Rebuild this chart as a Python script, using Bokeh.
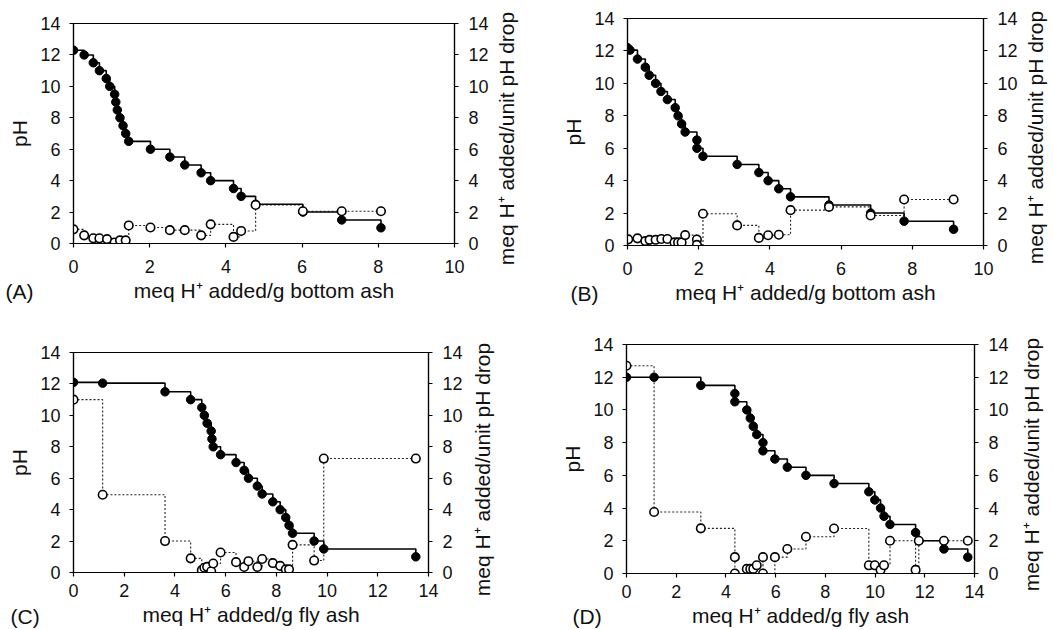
import math
from bokeh.plotting import figure
from bokeh.models import Range1d, LinearAxis, FixedTicker, Label, GridBox
from bokeh.embed import file_html
from bokeh.resources import INLINE

# ---------------- data ----------------
# Panel A (bottom ash)
a_ph_x = [0, 0.28, 0.52, 0.68, 0.86, 0.95, 1.08, 1.11, 1.15, 1.22, 1.3, 1.37, 1.45, 2.02,
          2.53, 2.92, 3.35, 3.6, 4.2, 4.4, 4.78, 6.02, 7.04, 8.07]
a_ph_y = [12.3, 12.0, 11.5, 11.0, 10.5, 10.0, 9.5, 9.0, 8.5, 8.0, 7.5, 7.0, 6.5, 6.0,
          5.5, 5.0, 4.5, 4.0, 3.5, 3.0, 2.5, 2.0, 1.5, 1.0]
a_buf_x = [0, 0.28, 0.52, 0.68, 0.88, 1.08, 1.22, 1.37, 1.45, 2.02, 2.53, 2.92, 3.35, 3.6,
           4.2, 4.4, 4.78, 6.02, 7.04, 8.07]
a_buf_y = [0.9, 0.52, 0.33, 0.33, 0.28, 0.06, 0.2, 0.2, 1.15, 1.02, 0.85, 0.85, 0.52, 1.22,
           0.42, 0.8, 2.45, 2.05, 2.05, 2.05]

# Panel B (bottom ash)
b_ph_x = [0, 0.07, 0.28, 0.5, 0.61, 0.79, 0.94, 1.12, 1.34, 1.42, 1.52, 1.62, 1.95, 1.95,
          2.12, 3.08, 3.69, 3.95, 4.25, 4.58, 5.66, 6.83, 7.77, 9.16]
b_ph_y = [12.2, 12.05, 11.5, 11.0, 10.5, 10.0, 9.5, 9.0, 8.5, 8.0, 7.5, 7.0, 6.5, 6.0,
          5.5, 5.0, 4.5, 4.0, 3.5, 3.0, 2.5, 2.0, 1.5, 1.0]
b_buf_x = [0.02, 0.28, 0.5, 0.62, 0.79, 0.95, 1.12, 1.32, 1.42, 1.52, 1.62, 1.95, 1.95,
           2.12, 3.08, 3.69, 3.95, 4.25, 4.58, 5.66, 6.83, 7.77, 9.16]
b_buf_y = [0.38, 0.44, 0.27, 0.35, 0.35, 0.4, 0.4, 0.19, 0.19, 0.19, 0.64, 0.37, 0.04,
           1.96, 1.24, 0.47, 0.63, 0.66, 2.18, 2.38, 1.85, 2.84, 2.84]

# Panel C (fly ash)
c_ph_x = [0, 1.15, 3.61, 4.62, 5.06, 5.16, 5.27, 5.43, 5.46, 5.51, 5.8, 6.41, 6.73, 6.9,
          7.25, 7.44, 7.86, 8.15, 8.37, 8.5, 8.64, 9.49, 9.87, 13.5]
c_ph_y = [12.1, 12.05, 11.5, 11.0, 10.5, 10.0, 9.5, 9.0, 8.5, 8.0, 7.5, 7.0, 6.5, 6.0,
          5.5, 5.0, 4.5, 4.0, 3.5, 3.0, 2.5, 2.0, 1.5, 1.0]
c_buf_x = [0, 1.15, 3.61, 4.62, 5.06, 5.16, 5.27, 5.43, 5.51, 5.8, 6.41, 6.73, 6.9, 7.25,
           7.44, 7.86, 8.15, 8.37, 8.5, 8.64, 9.49, 9.87, 13.5]
c_buf_y = [11.0, 4.95, 2.0, 0.9, 0.15, 0.3, 0.36, 0.08, 0.57, 1.27, 0.66, 0.35, 0.72, 0.35,
           0.86, 0.6, 0.42, 0.2, 0.2, 1.76, 0.76, 7.25, 7.25]

# Panel D (fly ash)
d_ph_x = [0, 1.11, 2.99, 4.36, 4.36, 4.84, 4.98, 5.1, 5.24, 5.49, 5.49, 5.97, 6.47, 7.22,
          8.35, 9.75, 9.99, 10.22, 10.36, 10.6, 11.63, 11.76, 12.77, 13.73]
d_ph_y = [12.0, 12.0, 11.5, 11.0, 10.5, 10.0, 9.5, 9.0, 8.5, 8.0, 7.5, 7.0, 6.5, 6.0,
          5.5, 5.0, 4.5, 4.0, 3.5, 3.0, 2.5, 2.0, 1.5, 1.0]
d_buf_x = [0, 1.11, 2.99, 4.36, 4.36, 4.84, 4.98, 5.1, 5.24, 5.49, 5.49, 5.97, 6.47, 7.22,
           8.35, 9.75, 9.99, 10.22, 10.36, 10.6, 11.63, 11.76, 12.77, 13.73]
d_buf_y = [12.7, 3.76, 2.76, 1.0, 0.0, 0.28, 0.28, 0.28, 0.5, 1.0, 0.0, 1.0, 1.5, 2.25,
           2.75, 0.5, 0.5, 0.22, 0.5, 2.0, 0.22, 2.0, 2.0, 2.0]

ph_ticks = [0, 2, 4, 6, 8, 10, 12, 14]
bottom_ash_ticks = [0, 2, 4, 6, 8, 10]
fly_ash_ticks = [0, 2, 4, 6, 8, 10, 12, 14]

y_label_left = "pH"
y_label_right = "meq H\u207a added/unit pH drop"
x_label_bottom = "meq H\u207a added/g bottom ash"
x_label_fly = "meq H\u207a added/g fly ash"
panel_tags = ["(A)", "(B)", "(C)", "(D)"]

FONT = "Liberation Sans"
TXT = "#111111"

W0, W1 = 528, 520      # column widths
H0, H1 = 306, 324      # row heights


def no_align(p):
    if "frame_align" in p.properties():
        p.frame_align = False


def style_axis(ax, tick_standoff, label_standoff):
    ax.axis_line_color = "black"
    ax.axis_line_width = 1.2
    ax.major_tick_line_color = "black"
    ax.major_tick_line_width = 1.2
    ax.major_tick_out = 4
    ax.major_tick_in = 0
    ax.minor_tick_line_color = None
    ax.major_label_text_font = FONT
    ax.major_label_text_font_size = "18px"
    ax.major_label_text_color = TXT
    ax.major_label_standoff = tick_standoff
    ax.axis_label_text_font = FONT
    ax.axis_label_text_font_size = "21px"
    ax.axis_label_text_font_style = "normal"
    ax.axis_label_text_color = TXT
    ax.axis_label_standoff = label_standoff


def make_panel(w, h, mb, x_end, x_ticks, x_label, ph_x, ph_y, buf_x, buf_y,
               bottom_standoffs):
    p = figure(width=w, height=h, x_range=Range1d(0, x_end), y_range=Range1d(0, 14),
               toolbar_location=None, output_backend="svg",
               min_border_left=mb[0], min_border_right=mb[1],
               min_border_top=mb[2], min_border_bottom=mb[3])
    no_align(p)
    p.extra_y_ranges = {"r": Range1d(0, 14)}
    p.xgrid.visible = False
    p.ygrid.visible = False
    p.outline_line_color = "black"
    p.outline_line_width = 1.2
    p.outline_line_alpha = 1.0
    p.background_fill_color = "white"
    p.border_fill_color = "white"

    p.xaxis.ticker = FixedTicker(ticks=x_ticks)
    p.xaxis.axis_label = x_label
    style_axis(p.xaxis[0], bottom_standoffs[0], bottom_standoffs[1])

    p.yaxis.ticker = FixedTicker(ticks=ph_ticks)
    p.yaxis.axis_label = y_label_left
    style_axis(p.yaxis[0], 9, 6)

    ra = LinearAxis(y_range_name="r", ticker=FixedTicker(ticks=ph_ticks))
    style_axis(ra, 10, 8)
    p.add_layout(ra, "right")

    # dotted step: buffer capacity (right axis)
    p.step(buf_x, buf_y, mode="after", y_range_name="r", line_color="#222222",
           line_width=1.1, line_dash="2 2")
    # solid step: pH
    p.step(ph_x, ph_y, mode="after", line_color="black", line_width=1.6)
    p.scatter(ph_x, ph_y, marker="circle", size=8.5, fill_color="black",
              line_color="black")
    p.scatter(buf_x, buf_y, marker="circle", size=8.5, fill_color="white",
              line_color="black", line_width=1.6, y_range_name="r")
    return p


pA = make_panel(W0, H0, (73, 74, 23, 63), 10, bottom_ash_ticks, x_label_bottom,
                a_ph_x, a_ph_y, a_buf_x, a_buf_y, (12, 3))
pB = make_panel(W1, H0, (99, 65, 18, 61), 10, bottom_ash_ticks, x_label_bottom,
                b_ph_x, b_ph_y, b_buf_x, b_buf_y, (12, 3))
pC = make_panel(W0, H1, (73, 100, 46, 58), 14, fly_ash_ticks, x_label_fly,
                c_ph_x, c_ph_y, c_buf_x, c_buf_y, (7, 3))
pD = make_panel(W1, H1, (98, 74, 38, 57), 14, fly_ash_ticks, x_label_fly,
                d_ph_x, d_ph_y, d_buf_x, d_buf_y, (7, 3))

# transparent overlay figure (page-pixel coordinates) for the texts that sit
# outside the panels' frames: panel tags and right-hand axis titles
ov = figure(width=W0 + W1, height=H0 + H1, x_range=Range1d(0, W0 + W1),
            y_range=Range1d(H0 + H1, 0), x_axis_type=None, y_axis_type=None,
            toolbar_location=None, output_backend="svg",
            min_border=0, min_border_left=0, min_border_right=0,
            min_border_top=0, min_border_bottom=0)
no_align(ov)
ov.xgrid.visible = False
ov.ygrid.visible = False
ov.outline_line_color = None
ov.background_fill_alpha = 0
ov.border_fill_alpha = 0

tag_pos = [(5, 291), (570, 293), (10, 616), (572, 616)]
rlab_pos = [(506, 138), (1035, 137), (482, 469), (1031, 464)]
for tag, (tx, ty) in zip(panel_tags, tag_pos):
    ov.add_layout(Label(x=tx, y=ty, text=tag, text_font=FONT, text_font_size="21px",
                        text_color=TXT, text_baseline="middle", text_align="left"))
for (rx, ry) in rlab_pos:
    ov.add_layout(Label(x=rx, y=ry, text=y_label_right, angle=math.pi / 2,
                        text_font=FONT, text_font_size="21px", text_color=TXT,
                        text_baseline="middle", text_align="center"))

layout = GridBox(children=[(pA, 0, 0), (pB, 0, 1), (pC, 1, 0), (pD, 1, 1),
                           (ov, 0, 0, 2, 2)], spacing=0)

with open("out.html", "w") as f:
    f.write(file_html(layout, INLINE))
